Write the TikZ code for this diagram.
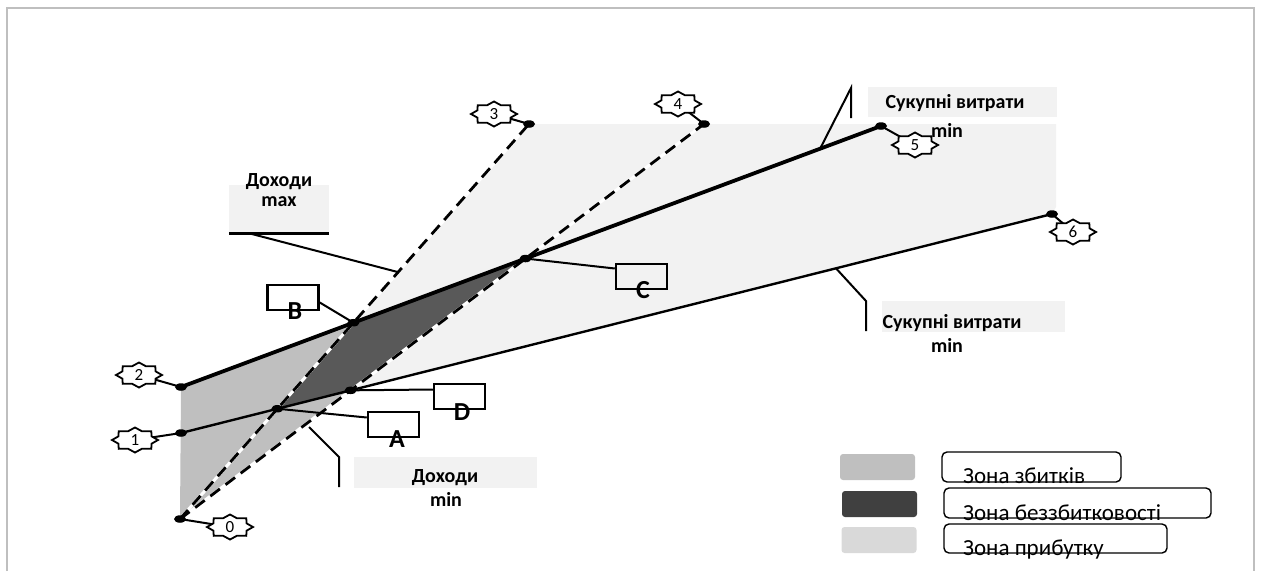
\documentclass[tikz,border=0pt]{standalone}
\usepackage{fontspec}
\setmainfont{Carlito}
\usetikzlibrary{calc,shapes.geometric}
\definecolor{lossc}{HTML}{BFBFBF}
\definecolor{evenc}{HTML}{595959}
\definecolor{profc}{HTML}{F2F2F2}
\definecolor{legdark}{HTML}{404040}
\definecolor{legprof}{HTML}{D9D9D9}
\definecolor{framec}{HTML}{BFBFBF}
\newcommand{\myseal}[2]{%
  \path[sealline] ($(#1)+(23,0)$)
    \foreach \k in {0,...,7}{ -- ($(#1)+({18*cos(45*\k+22.5)},{9.5*sin(45*\k+22.5)})$) -- ($(#1)+({23*cos(45*\k+45)},{12.5*sin(45*\k+45)})$)} -- cycle;
  \node[sealtext] (#2) at (#1) {#2};}
\tikzset{
  sealline/.style={draw, line width=1.8pt, fill=white, line join=miter},
  sealtext/.style={inner sep=0pt, font=\fontsize{17}{17}\selectfont},
  dotnode/.style={ellipse, fill=black, minimum width=12pt, minimum height=7.5pt, inner sep=0pt},
  dashline/.style={line width=2.8pt, dash pattern=on 12pt off 7pt},
  underline/.style={white, line width=3pt},
  leader/.style={line width=2pt},
  lblfont/.style={font=\fontsize{20}{22}\selectfont\bfseries, inner sep=0pt, anchor=base},
  letterbox/.style={draw, line width=2.5pt, minimum width=51pt, minimum height=25pt, inner sep=0pt},
  lettertext/.style={font=\fontsize{26}{26}\selectfont\bfseries, inner sep=0pt, anchor=base},
  labelbg/.style={fill=profc, draw=none, inner sep=0pt},
  swatch/.style={rounded corners=3pt, minimum width=75pt, minimum height=26pt, inner sep=0pt},
  legbox/.style={draw, line width=1.4pt, rounded corners=5pt, inner sep=0pt, minimum height=30pt},
  legtext/.style={font=\fontsize{23}{23}\selectfont, inner sep=0pt, anchor=base west},
}
\begin{document}
\begin{tikzpicture}[x=1pt,y=-1pt]
\useasboundingbox (0,0) rectangle (1261,571);
% frame
\draw[framec, line width=1.5pt] (7,571) -- (7,8) -- (1254,8) -- (1254,571);
% points
\coordinate (P0) at (180,519);
\coordinate (P1) at (181,433);
\coordinate (P2) at (181,387);
\coordinate (P3) at (529,124);
\coordinate (P4) at (704,124);
\coordinate (P5) at (881,126);
\coordinate (P6) at (1052,214);
\coordinate (B) at (intersection of P2--P5 and P0--P3);
\coordinate (C) at (intersection of P2--P5 and P0--P4);
\coordinate (D) at (intersection of P1--P6 and P0--P4);
\coordinate (A) at (intersection of P1--P6 and P0--P3);
% zones
\fill[profc] (B) -- (P3) -- (1056,124) -- (1056,207) -- (P6) -- (D) -- (C) -- cycle;
\fill[lossc] (P2) -- (B) -- (A) -- (D) -- (P0) -- cycle;
\fill[evenc] (A) -- (B) -- (C) -- (D) -- cycle;
% label backgrounds
\node[labelbg, minimum width=100pt, minimum height=48pt] (bgmax) at (279,209) {};
\node[labelbg, minimum width=189pt, minimum height=30pt] (bgtop) at (962.5,102) {};
\node[labelbg, minimum width=183pt, minimum height=31pt] (bgbot) at (973.5,316.5) {};
\node[labelbg, minimum width=183pt, minimum height=31pt] (bgmin) at (445.5,472.5) {};
% curves
\draw[underline] (P0) -- (P3);
\draw[underline] (P0) -- (P4);
\draw[line width=3.8pt] (P2) -- (P5);
\draw[line width=2.4pt] (P1) -- (P6);
\draw[dashline] (P0) -- (P3);
\draw[dashline] (P0) -- (P4);
% label leaders
\draw[line width=2.8pt] (bgmax.south west) -- (bgmax.south east);
\coordinate (Lmax) at (248,233);
\draw[leader] (Lmax) -- ($(P0)!0.625!(P3)$);
\coordinate (Ltop1) at (851,88);
\coordinate (Ltop2) at (851,118);
\draw[leader] ($(P2)!0.913!(P5)$) -- (Ltop1) -- (Ltop2);
\coordinate (Lbot1) at (866,301);
\coordinate (Lbot2) at (866,331);
\draw[leader] ($(P1)!0.752!(P6)$) -- (Lbot1) -- (Lbot2);
\coordinate (Lmin0) at (309,427);
\coordinate (Lmin1) at (339,457);
\coordinate (Lmin2) at (339,487);
\draw[leader] (Lmin0) -- (Lmin1) -- (Lmin2);
% label texts
\node[lblfont] (tmax1) at (279,186) {Доходи};
\node[lblfont] (tmax2) at (279,206) {max};
\node[lblfont] (ttop1) at (955,108) {Сукупні витрати};
\node[lblfont] (ttop2) at (947,137) {min};
\node[lblfont] (tbot1) at (952,328) {Сукупні витрати};
\node[lblfont] (tbot2) at (947,352) {min};
\node[lblfont] (tmin1) at (445,482) {Доходи};
\node[lblfont] (tmin2) at (446,506) {min};
% letter boxes
\node[letterbox] (bB) at (293,297.5) {};
\node[letterbox] (bC) at (641.5,276.5) {};
\node[letterbox] (bD) at (459.5,396.5) {};
\node[letterbox] (bA) at (393.5,424.5) {};
\draw[leader] (B) -- ($(bB.east)+(0,5)$);
\draw[leader] (C) -- ($(bC.west)+(0,-8)$);
\draw[leader] (D) -- ($(bD.west)+(0,-7)$);
\draw[leader] (A) -- ($(bA.west)+(0,-7)$);
\node[lettertext] (lB) at (295,319) {B};
\node[lettertext] (lC) at (643,298) {C};
\node[lettertext] (lD) at (462,420) {D};
\node[lettertext] (lA) at (397,447) {A};
% star leaders
\coordinate (S0) at (230,527);
\coordinate (S1) at (135,440);
\coordinate (S2) at (139,375);
\coordinate (S3) at (494,114);
\coordinate (S4) at (678,104);
\coordinate (S5) at (915,145);
\coordinate (S6) at (1073,232);
\draw[leader] (P0) -- (S0);
\draw[leader] (P1) -- (S1);
\draw[leader] (P2) -- (S2);
\draw[leader] (P3) -- (S3);
\draw[leader] (P4) -- (S4);
\draw[leader] (P5) -- (S5);
\draw[leader] (P6) -- (S6);
% dots
\foreach \p in {P0,P1,P2,P3,P4,P5,P6,A,B,C,D}{\node[dotnode] (dot\p) at (\p) {};}
% stars
\myseal{S0}{0}
\myseal{S1}{1}
\myseal{S2}{2}
\myseal{S3}{3}
\myseal{S4}{4}
\myseal{S5}{5}
\myseal{S6}{6}
% legend
\node[swatch, fill=lossc] (sw1) at (877.5,467) {};
\node[swatch, fill=legdark] (sw2) at (879.5,504) {};
\node[swatch, fill=legprof] (sw3) at (879,540) {};
\node[legbox, minimum width=179pt] (lb1) at (1031.5,467) {};
\node[legbox, minimum width=267pt] (lb2) at (1077.5,503) {};
\node[legbox, minimum width=223pt, minimum height=29pt] (lb3) at (1055.5,538.5) {};
\node[legtext] (lt1) at (963,483) {Зона збитків};
\node[legtext] (lt2) at (963,520) {Зона беззбитковості};
\node[legtext] (lt3) at (963,555) {Зона прибутку};
\end{tikzpicture}
\end{document}
